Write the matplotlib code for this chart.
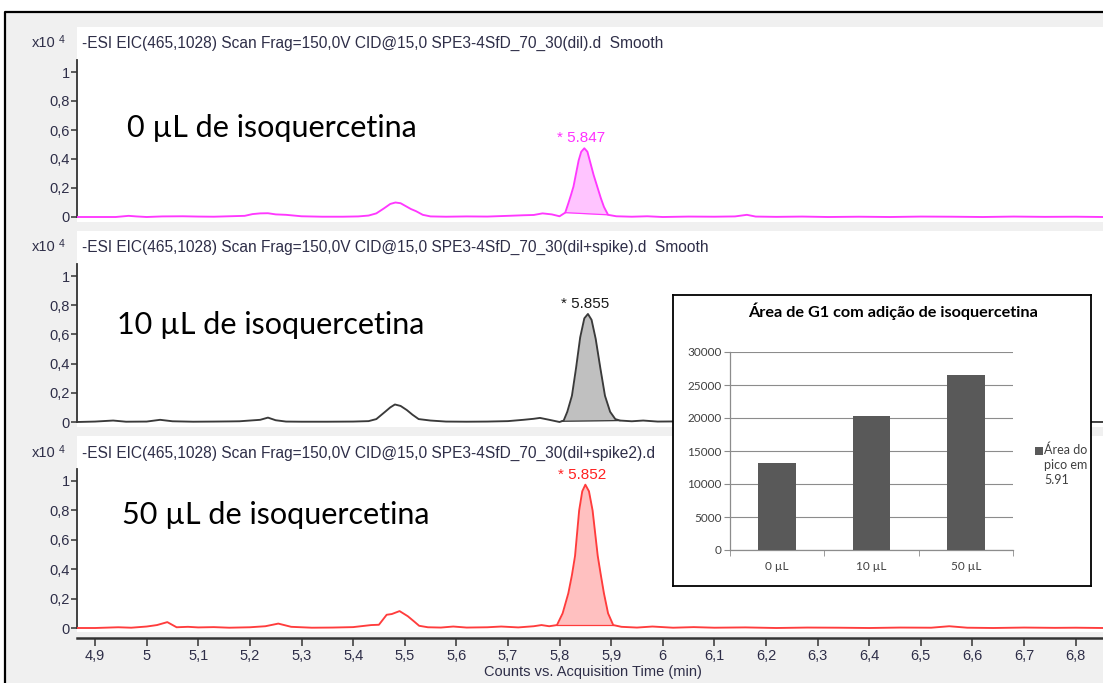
import numpy as np
import matplotlib
matplotlib.use("Agg")
import matplotlib.pyplot as plt
from matplotlib.patches import Rectangle
from matplotlib.lines import Line2D
from matplotlib.ticker import FixedLocator, FuncFormatter

# ---------------- data ----------------
# Panel 1: 0 uL (magenta)
t1 = [4.865, 4.90, 4.94, 4.965, 4.98, 5.00, 5.03, 5.07, 5.10, 5.13, 5.16, 5.19, 5.205, 5.22,
      5.235, 5.25, 5.27, 5.30, 5.34, 5.38, 5.41, 5.43, 5.445, 5.46, 5.472, 5.482, 5.492, 5.502,
      5.512, 5.522, 5.535, 5.55, 5.58, 5.62, 5.66, 5.70, 5.73, 5.75, 5.767, 5.785, 5.80, 5.811,
      5.817, 5.822, 5.827, 5.832, 5.837, 5.842, 5.848, 5.854, 5.860, 5.866, 5.873, 5.880, 5.886,
      5.894, 5.91, 5.94, 5.97, 6.00, 6.05, 6.10, 6.14, 6.163, 6.18, 6.22, 6.27, 6.32, 6.38, 6.44,
      6.50, 6.56, 6.62, 6.68, 6.74, 6.80, 6.853]
i1 = [0.0, 0.0, 0.0, 0.008, 0.004, 0.0, 0.004, 0.005, 0.003, 0.002, 0.005, 0.008, 0.02, 0.025,
      0.026, 0.018, 0.015, 0.005, 0.002, 0.002, 0.004, 0.01, 0.025, 0.06, 0.09, 0.10, 0.095, 0.075,
      0.055, 0.04, 0.015, 0.004, 0.002, 0.004, 0.003, 0.008, 0.012, 0.014, 0.025, 0.018, 0.005, 0.03,
      0.094, 0.15, 0.21, 0.30, 0.39, 0.45, 0.474, 0.45, 0.37, 0.29, 0.21, 0.13, 0.07,
      0.015, 0.005, 0.002, 0.005, 0.0, 0.003, 0.002, 0.004, 0.015, 0.003, 0.001, 0.003, 0.0, 0.002, 0.0,
      0.003, 0.002, 0.0, 0.003, 0.001, 0.002, 0.0]

# Panel 2: 10 uL (dark gray)
t2 = [4.865, 4.90, 4.935, 4.96, 5.00, 5.026, 5.05, 5.09, 5.13, 5.16, 5.18, 5.20, 5.22, 5.235,
      5.25, 5.27, 5.30, 5.35, 5.40, 5.43, 5.445, 5.462, 5.472, 5.481, 5.492, 5.504, 5.515, 5.527,
      5.55, 5.58, 5.62, 5.66, 5.70, 5.73, 5.75, 5.762, 5.78, 5.80, 5.808, 5.815, 5.824, 5.832,
      5.840, 5.848, 5.855, 5.862, 5.870, 5.879, 5.888, 5.898, 5.908, 5.917, 5.94, 5.962, 5.99,
      6.03, 6.08, 6.20, 6.40, 6.60, 6.853]
i2 = [0.0, 0.003, 0.01, 0.002, 0.003, 0.015, 0.005, 0.002, 0.003, 0.004, 0.005, 0.01, 0.015, 0.03,
      0.012, 0.003, 0.002, 0.002, 0.003, 0.006, 0.02, 0.07, 0.10, 0.12, 0.11, 0.082, 0.05, 0.02,
      0.01, 0.003, 0.002, 0.003, 0.006, 0.015, 0.022, 0.028, 0.015, 0.0, 0.01, 0.07, 0.18, 0.37,
      0.58, 0.71, 0.74, 0.70, 0.57, 0.37, 0.18, 0.07, 0.02, 0.01, 0.005, 0.01, 0.003,
      0.004, 0.002, 0.003, 0.002, 0.003, 0.0]

# Panel 3: 50 uL (red)
t3 = [4.865, 4.90, 4.945, 4.97, 5.00, 5.02, 5.04, 5.058, 5.08, 5.10, 5.13, 5.16, 5.20, 5.23,
      5.255, 5.28, 5.32, 5.36, 5.40, 5.435, 5.45, 5.465, 5.475, 5.49, 5.506, 5.518, 5.528, 5.545,
      5.57, 5.594, 5.62, 5.66, 5.687, 5.72, 5.75, 5.765, 5.78, 5.795, 5.806, 5.817, 5.824, 5.830,
      5.838, 5.844, 5.850, 5.857, 5.864, 5.874, 5.880, 5.886, 5.894, 5.904, 5.92, 5.95, 5.98, 6.02,
      6.06, 6.10, 6.16, 6.22, 6.28, 6.34, 6.40, 6.46, 6.52, 6.555, 6.59, 6.64, 6.70, 6.76, 6.80, 6.853]
i3 = [0.0, 0.0, 0.005, 0.002, 0.01, 0.02, 0.04, 0.005, 0.008, 0.004, 0.006, 0.002, 0.005, 0.012,
      0.03, 0.008, 0.002, 0.003, 0.006, 0.02, 0.022, 0.09, 0.095, 0.115, 0.08, 0.045, 0.015, 0.005,
      0.003, 0.01, 0.003, 0.005, 0.01, 0.004, 0.012, 0.02, 0.012, 0.02, 0.10, 0.236, 0.36, 0.49,
      0.80, 0.93, 0.975, 0.93, 0.80, 0.49, 0.36, 0.236, 0.10, 0.02, 0.008, 0.003, 0.01, 0.002,
      0.006, 0.002, 0.004, 0.0, 0.003, 0.002, 0.0, 0.003, 0.002, 0.012, 0.002, 0.0, 0.003, 0.001, 0.002, 0.0]

peak_bounds = [(5.811, 5.894), (5.804, 5.917), (5.795, 5.904)]
peak_labels = ["5.847", "5.855", "5.852"]
headers = [
    "-ESI EIC(465,1028) Scan Frag=150,0V CID@15,0 SPE3-4SfD_70_30(dil).d  Smooth",
    "-ESI EIC(465,1028) Scan Frag=150,0V CID@15,0 SPE3-4SfD_70_30(dil+spike).d  Smooth",
    "-ESI EIC(465,1028) Scan Frag=150,0V CID@15,0 SPE3-4SfD_70_30(dil+spike2).d",
]
panel_labels = ["0 µL de isoquercetina", "10 µL de isoquercetina", "50 µL de isoquercetina"]
y_ticks = [0, 0.2, 0.4, 0.6, 0.8, 1.0]
x_ticks = [4.9, 5.0, 5.1, 5.2, 5.3, 5.4, 5.5, 5.6, 5.7, 5.8, 5.9, 6.0, 6.1, 6.2, 6.3, 6.4, 6.5, 6.6, 6.7, 6.8]

# inset bar chart
bar_categories = ["0 µL", "10 µL", "50 µL"]
bar_values = [13250, 20250, 26500]
inset_title = "Área de G1 com adição de isoquercetina"
legend_label = "Área do\npico em\n5.91"

# ---------------- style ----------------
W, H = 1103, 683
def fx(x): return x / W
def fy(y): return 1 - y / H

TXT = "#2e2e48"
AX = "#333333"
HFONT = "Liberation Sans"
BIGFONT = "Lato"

fig = plt.figure(figsize=(W / 100, H / 100), dpi=100, facecolor="white")

# gray background and black frame
fig.patches.append(Rectangle((fx(5), 0), 1 - fx(5), fy(12), transform=fig.transFigure,
                             facecolor="#f0f0f0", edgecolor="none", zorder=-5))
fig.lines.append(Line2D([fx(5), fx(5), 1.0], [0, fy(12), fy(12)], transform=fig.transFigure,
                        color="black", lw=1.6, zorder=-4))

panels = [
    dict(t=t1, i=i1, top=27, bot=222, y0=217, ppu=145, line="#ff38ff", fill="#ffc4ff", lab="#ff30ff",
         hy=43, ly=128, lx=127),
    dict(t=t2, i=i2, top=231, bot=427, y0=422, ppu=146, line="#3a3a3a", fill="#c0c0c0", lab="#1a1a1a",
         hy=247, ly=325, lx=117),
    dict(t=t3, i=i3, top=436, bot=632, y0=628, ppu=147, line="#ff3c3c", fill="#ffc0c0", lab="#ff2020",
         hy=453, ly=515, lx=122),
]
xl = (4.865, 6.853)
ax_left = 77

axes = []
for k, p in enumerate(panels):
    ax = fig.add_axes([fx(ax_left), fy(p["bot"]), 1 - fx(ax_left), (p["bot"] - p["top"]) / H])
    ax.set_facecolor("white")
    ax.set_xlim(*xl)
    ax.set_ylim(-(p["bot"] - p["y0"]) / p["ppu"], (p["y0"] - p["top"]) / p["ppu"])
    t = np.array(p["t"]); v = np.array(p["i"])
    a, b = peak_bounds[k]
    m = (t >= a) & (t <= b)
    base = np.interp(t[m], [a, b], [np.interp(a, t, v), np.interp(b, t, v)])
    ax.fill_between(t[m], base, v[m], color=p["fill"], lw=0, zorder=2)
    ax.plot([a, b], [np.interp(a, t, v), np.interp(b, t, v)], color=p["line"], lw=0.9, zorder=3)
    ax.plot(t, v, color=p["line"], lw=1.35, zorder=4, solid_joinstyle="round")
    j = int(np.argmax(v))
    ax.annotate("* " + peak_labels[k], (t[j], v[j]), xytext=(-2, 2), textcoords="offset points",
                ha="center", va="bottom", color=p["lab"], fontsize=11, family=HFONT)
    for s in ["top", "right", "bottom"]:
        ax.spines[s].set_visible(False)
    ax.spines["left"].set_bounds(0, 1.08)
    ax.spines["left"].set_color(AX)
    ax.spines["left"].set_linewidth(1.3)
    ax.yaxis.set_major_locator(FixedLocator(y_ticks))
    ax.yaxis.set_major_formatter(FuncFormatter(lambda val, pos: ("%g" % val).replace(".", ",")))
    ax.tick_params(axis="y", direction="out", length=4, width=1.1, color=AX, labelcolor=TXT,
                   labelsize=10.5, pad=1)
    for lbl in ax.get_yticklabels():
        lbl.set_family(HFONT)
    if k < 2:
        ax.xaxis.set_visible(False)
    else:
        ax.spines["bottom"].set_visible(True)
        ax.spines["bottom"].set_position(("outward", 4))
        ax.spines["bottom"].set_color(AX)
        ax.spines["bottom"].set_linewidth(1.8)
        ax.xaxis.set_major_locator(FixedLocator(x_ticks))
        ax.xaxis.set_major_formatter(FuncFormatter(lambda val, pos: ("%g" % round(val, 1)).replace(".", ",")))
        ax.tick_params(axis="x", direction="out", length=6, width=1.1, color=AX, labelcolor=TXT,
                       labelsize=10.5, pad=2)
        for lbl in ax.get_xticklabels():
            lbl.set_family(HFONT)
    fig.text(fx(82), fy(p["hy"]), headers[k], ha="left", va="center", color=TXT, fontsize=11.2,
             family=HFONT, zorder=1)
    fig.text(fx(56), fy(p["hy"]), "x10", ha="right", va="center", color=TXT, fontsize=10.5, family=HFONT)
    fig.text(fx(59), fy(p["hy"] - 3), "4", ha="left", va="center", color=TXT, fontsize=7.5, family=HFONT)
    fig.text(fx(p["lx"]), fy(p["ly"]), panel_labels[k], ha="left", va="center", color="black",
             fontsize=22, family=BIGFONT, zorder=1)
    axes.append(ax)

fig.text(fx(593), fy(672), "Counts vs. Acquisition Time (min)", ha="center", va="center",
         color=TXT, fontsize=10.5, family=HFONT)

# ---------------- inset ----------------
box = fig.add_axes([fx(673), fy(586), (1091 - 673) / W, (586 - 295) / H])
box.set_zorder(5)
box.set_facecolor("white")
box.set_xticks([]); box.set_yticks([])
for s in box.spines.values():
    s.set_color("black"); s.set_linewidth(1.3)

axi = fig.add_axes([fx(730), fy(550), (1013 - 730) / W, (550 - 352) / H])
axi.set_zorder(6)
axi.set_facecolor("none")
xpos = np.arange(len(bar_categories))
axi.bar(xpos, bar_values, width=0.4, color="#595959", zorder=3)
axi.set_xlim(-0.5, len(bar_categories) - 0.5)
axi.set_ylim(0, 30000)
axi.set_yticks(np.arange(0, 30001, 5000))
axi.yaxis.grid(True, color="#8c8c8c", lw=0.8, zorder=0)
axi.set_axisbelow(True)
axi.set_xticks(xpos)
axi.set_xticklabels(bar_categories)
axi.set_xticks(np.arange(-0.5, len(bar_categories), 1.0), minor=True)
axi.tick_params(axis="x", which="major", length=0, pad=8, labelsize=8.5, labelcolor="#404040")
axi.tick_params(axis="x", which="minor", length=4, direction="out", color="#8c8c8c")
axi.tick_params(axis="y", length=4, direction="out", color="#8c8c8c", labelsize=8.5,
                labelcolor="#404040", pad=2)
for lbl in axi.get_xticklabels() + axi.get_yticklabels():
    lbl.set_family(BIGFONT)
for s in ["top", "right"]:
    axi.spines[s].set_visible(False)
for s in ["left", "bottom"]:
    axi.spines[s].set_color("#8c8c8c"); axi.spines[s].set_linewidth(0.9)

fig.text(fx(893), fy(311), inset_title, ha="center", va="center", fontsize=11.7,
         fontweight="bold", family=BIGFONT, color="black", zorder=10)
fig.patches.append(Rectangle((fx(1035), fy(455)), 8 / W, 8 / H, transform=fig.transFigure,
                             facecolor="#595959", edgecolor="none", zorder=10))
fig.text(fx(1044), fy(443), legend_label, ha="left", va="top", fontsize=9, family=BIGFONT,
         color="#404040", linespacing=1.35, zorder=10)

fig.savefig("out.png", dpi=100, facecolor=fig.get_facecolor())
